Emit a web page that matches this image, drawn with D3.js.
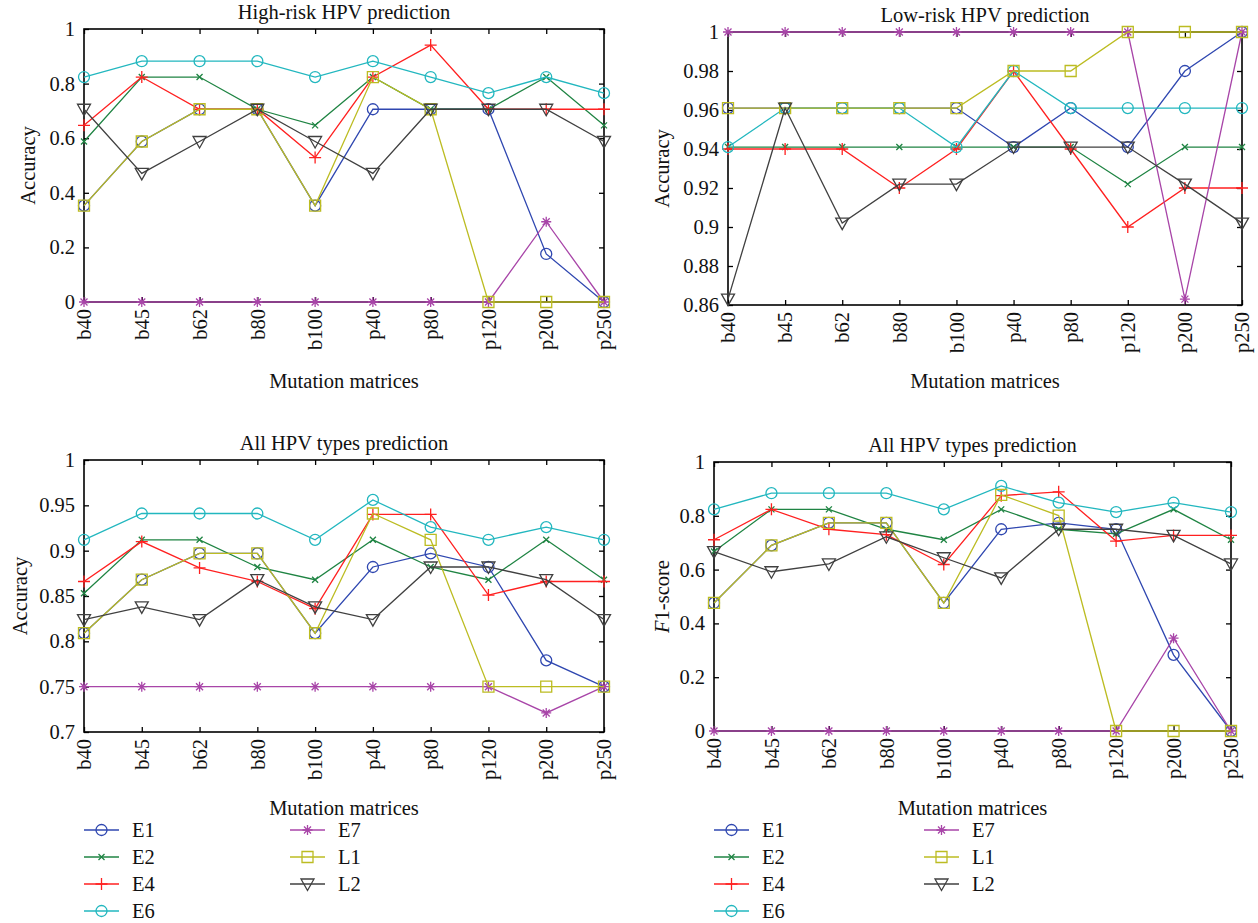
<!DOCTYPE html>
<html><head><meta charset="utf-8">
<script src="https://cdn.jsdelivr.net/npm/d3@7/dist/d3.min.js"></script>
<style>
body{margin:0;background:#fff}
text{font-family:"Liberation Serif","DejaVu Serif",serif;fill:#111}
</style>
</head><body>
<svg id="c" width="1258" height="923"></svg>
<script>
// ---------------- data ----------------
const categories = ["b40","b45","b62","b80","b100","p40","p80","p120","p200","p250"];
const seriesNames = ["E1","E2","E4","E6","E7","L1","L2"];
const seriesColors = ["#2f47b0","#1f8443","#ff2020","#22b7bf","#a845a8","#bcbc22","#404040"];
const seriesMarkers = ["circle","x","plus","circle","star","square","tri"];

// rows follow seriesNames order
const highRiskAcc = [
  [0.353,0.588,0.706,0.706,0.353,0.706,0.706,0.706,0.176,0],
  [0.588,0.824,0.824,0.706,0.647,0.824,0.706,0.706,0.824,0.647],
  [0.647,0.824,0.706,0.706,0.529,0.824,0.941,0.706,0.706,0.706],
  [0.824,0.882,0.882,0.882,0.824,0.882,0.824,0.765,0.824,0.765],
  [0,0,0,0,0,0,0,0,0.294,0],
  [0.353,0.588,0.706,0.706,0.353,0.824,0.706,0,0,0],
  [0.706,0.471,0.588,0.706,0.588,0.471,0.706,0.706,0.706,0.588]
];
const lowRiskAcc = [
  [0.961,0.961,0.961,0.961,0.961,0.941,0.961,0.941,0.980,1],
  [0.941,0.941,0.941,0.941,0.941,0.941,0.941,0.922,0.941,0.941],
  [0.94,0.94,0.94,0.92,0.94,0.98,0.94,0.90,0.92,0.92],
  [0.941,0.961,0.961,0.961,0.941,0.980,0.961,0.961,0.961,0.961],
  [1,1,1,1,1,1,1,1,0.863,1],
  [0.961,0.961,0.961,0.961,0.961,0.980,0.980,1,1,1],
  [0.863,0.961,0.902,0.922,0.922,0.941,0.941,0.941,0.922,0.902]
];
const allTypesAcc = [
  [0.809,0.868,0.897,0.897,0.809,0.882,0.897,0.882,0.779,0.75],
  [0.853,0.912,0.912,0.882,0.868,0.912,0.882,0.868,0.912,0.868],
  [0.866,0.910,0.881,0.866,0.836,0.940,0.940,0.851,0.866,0.866],
  [0.912,0.941,0.941,0.941,0.912,0.956,0.926,0.912,0.926,0.912],
  [0.75,0.75,0.75,0.75,0.75,0.75,0.75,0.75,0.721,0.75],
  [0.809,0.868,0.897,0.897,0.809,0.941,0.912,0.75,0.75,0.75],
  [0.824,0.838,0.824,0.868,0.838,0.824,0.882,0.882,0.868,0.824]
];
const allTypesF1 = [
  [0.476,0.690,0.774,0.774,0.476,0.750,0.774,0.750,0.283,0],
  [0.667,0.824,0.824,0.750,0.711,0.824,0.750,0.733,0.824,0.711],
  [0.711,0.824,0.750,0.730,0.619,0.875,0.889,0.706,0.727,0.727],
  [0.824,0.884,0.884,0.884,0.824,0.911,0.849,0.814,0.849,0.814],
  [0,0,0,0,0,0,0,0,0.345,0],
  [0.476,0.690,0.774,0.774,0.476,0.878,0.801,0,0,0],
  [0.667,0.592,0.621,0.722,0.644,0.569,0.750,0.750,0.727,0.621]
];
const ticksUnit = [0,0.2,0.4,0.6,0.8,1];
const ticksLow = [0.86,0.88,0.9,0.92,0.94,0.96,0.98,1];
const ticksAll = [0.7,0.75,0.8,0.85,0.9,0.95,1];

// ---------------- drawing ----------------
const svg = d3.select("#c");
const FS = 20.5;

const panels = [
  {title:"High-risk HPV prediction", data:highRiskAcc, ticks:ticksUnit, domain:[0,1],
   x0:84, x1:604, y0:29, y1:302, ylab:"Accuracy", ylabX:28, xlabY:388, legend:null},
  {title:"Low-risk HPV prediction", data:lowRiskAcc, ticks:ticksLow, domain:[0.86,1],
   x0:728, x1:1242, y0:32, y1:305, ylab:"Accuracy", ylabX:662, xlabY:388, legend:null},
  {title:"All HPV types prediction", data:allTypesAcc, ticks:ticksAll, domain:[0.7,1],
   x0:84, x1:604, y0:460, y1:732, ylab:"Accuracy", ylabX:20, xlabY:815,
   legend:{c1:84, c2:290, rows:[830,857,884,911]}},
  {title:"All HPV types prediction", data:allTypesF1, ticks:ticksUnit, domain:[0,1],
   x0:714, x1:1231, y0:462, y1:731, ylab:"F1", ylabX:662, xlabY:815,
   legend:{c1:714, c2:924, rows:[830,857,884,911]}}
];

function markerPath(m){
  switch(m){
    case "x": return "M-3,-3L3,3M-3,3L3,-3";
    case "plus": return "M-6,0H6M0,-6V6";
    case "star": return "M-5,0H5M0,-5V5M-3.5,-3.5L3.5,3.5M-3.5,3.5L3.5,-3.5";
    case "square": return "M-5.5,-5.5H5.5V5.5H-5.5Z";
    case "tri": return "M-6.5,-5L6.5,-5L0,6.5Z";
    default: return null;
  }
}
function drawMarker(g, m, color, x, y){
  if(m==="circle"){
    g.append("circle").attr("cx",x).attr("cy",y).attr("r",5.5)
      .attr("fill","none").attr("stroke",color).attr("stroke-width",1.3);
  } else {
    g.append("path").attr("d",markerPath(m)).attr("transform",`translate(${x},${y})`)
      .attr("fill","none").attr("stroke",color).attr("stroke-width",1.3);
  }
}

panels.forEach(p=>{
  const g = svg.append("g");
  const x = d3.scalePoint().domain(categories).range([p.x0,p.x1]);
  const y = d3.scaleLinear().domain(p.domain).range([p.y1,p.y0]);
  const fmt = v => String(+v.toFixed(2));

  g.append("rect").attr("x",p.x0).attr("y",p.y0).attr("width",p.x1-p.x0).attr("height",p.y1-p.y0)
    .attr("fill","none").attr("stroke","#000").attr("stroke-width",1.6);

  const ax = g.append("g").attr("transform",`translate(${p.x0},0)`)
    .call(d3.axisLeft(y).tickValues(p.ticks).tickFormat(fmt).tickSizeInner(-5).tickSizeOuter(0).tickPadding(9));
  ax.select(".domain").remove();
  ax.selectAll("text").attr("font-size",FS).attr("font-family","Liberation Serif").attr("fill","#111");
  ax.selectAll("line").attr("stroke","#000").attr("stroke-width",1.3);
  const ar = g.append("g").attr("transform",`translate(${p.x1},0)`)
    .call(d3.axisRight(y).tickValues(p.ticks).tickFormat("").tickSizeInner(-5).tickSizeOuter(0));
  ar.select(".domain").remove();
  ar.selectAll("line").attr("stroke","#000").attr("stroke-width",1.3);
  const ab = g.append("g").attr("transform",`translate(0,${p.y1})`)
    .call(d3.axisBottom(x).tickSizeInner(-5).tickSizeOuter(0).tickPadding(7));
  ab.select(".domain").remove();
  ab.selectAll("line").attr("stroke","#000").attr("stroke-width",1.3);
  ab.selectAll("text").attr("font-size",FS).attr("font-family","Liberation Serif").attr("fill","#111")
    .attr("transform","rotate(-90)").attr("text-anchor","end").attr("dy","0.33em").attr("x",-7).attr("y",0);
  const at = g.append("g").attr("transform",`translate(0,${p.y0})`)
    .call(d3.axisTop(x).tickFormat("").tickSizeInner(-5).tickSizeOuter(0));
  at.select(".domain").remove();
  at.selectAll("line").attr("stroke","#000").attr("stroke-width",1.3);

  const cx = (p.x0+p.x1)/2;
  g.append("text").attr("x",cx).attr("y",p.y0-10).attr("text-anchor","middle")
    .attr("font-size",FS).text(p.title);
  g.append("text").attr("x",cx).attr("y",p.xlabY).attr("text-anchor","middle")
    .attr("font-size",FS).text("Mutation matrices");
  const yl = g.append("text").attr("transform",`translate(${p.ylabX},${(p.y0+p.y1)/2}) rotate(-90)`)
    .attr("text-anchor","middle").attr("dy","0.35em").attr("font-size",FS);
  if(p.ylab==="F1"){
    yl.append("tspan").attr("font-style","italic").text("F");
    yl.append("tspan").text("1-score");
  } else yl.text(p.ylab);

  const line = d3.line().x((d,i)=>x(categories[i])).y(d=>y(d));
  p.data.forEach((vals,si)=>{
    const col = seriesColors[si];
    g.append("path").datum(vals).attr("d",line).attr("fill","none")
      .attr("stroke",col).attr("stroke-width",1.3);
    const mg = g.append("g");
    vals.forEach((v,i)=>drawMarker(mg, seriesMarkers[si], col, x(categories[i]), y(v)));
  });

  if(p.legend){
    const L = p.legend;
    seriesNames.forEach((nm,si)=>{
      const col = seriesColors[si];
      const cxl = si<4 ? L.c1 : L.c2;
      const ry = L.rows[si<4 ? si : si-4];
      g.append("line").attr("x1",cxl).attr("x2",cxl+35).attr("y1",ry).attr("y2",ry)
        .attr("stroke",col).attr("stroke-width",1.5);
      drawMarker(g, seriesMarkers[si], col, cxl+17.5, ry);
      g.append("text").attr("x",cxl+48).attr("y",ry).attr("dy","0.35em")
        .attr("font-size",FS).text(nm);
    });
  }
});
</script>
</body></html>
